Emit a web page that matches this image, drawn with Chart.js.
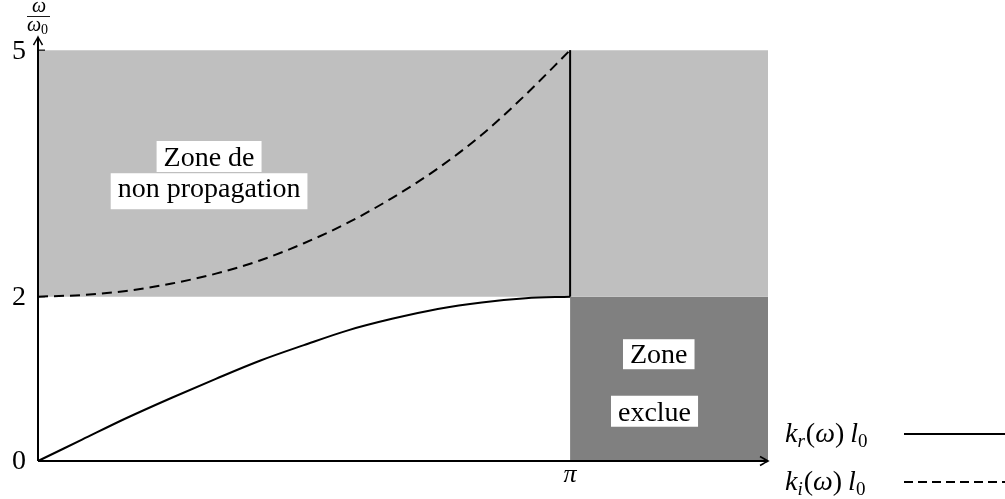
<!DOCTYPE html>
<html>
<head>
<meta charset="utf-8">
<script src="https://cdn.jsdelivr.net/npm/chart.js@4.4.1/dist/chart.umd.min.js"></script>
<style>
  html, body { margin: 0; padding: 0; background: #fff; }
  #chart { display: block; }
</style>
</head>
<body>
<canvas id="chart" width="1005" height="499"></canvas>
<script>
// values (k l0 on x, omega/omega0 on y)
const kValues   = [0, 0.26, 0.52, 0.79, 1.05, 1.31, 1.57, 1.83, 2.09, 2.36, 2.62, 2.88, Math.PI];
const omegaReal = [0, 0.26, 0.52, 0.77, 1.00, 1.22, 1.41, 1.59, 1.73, 1.85, 1.93, 1.98, 2.00];
const omegaImag = [2, 2.02, 2.07, 2.16, 2.28, 2.44, 2.65, 2.90, 3.20, 3.56, 3.97, 4.46, 5.00];
const yTickValues = [0, 2, 5];
const yTickLabels = ['0', '2', '5'];
const xTickValues = [Math.PI];
const xTickLabels = ['π'];
const cutoff = 2;     // omega/omega0 above which no propagation
const topValue = 5;
const xEnd = 4.31;
const yEnd = 5.16;

const FONT = '"Liberation Serif", "DejaVu Serif", serif';
const LIGHT = '#bfbfbf';
const DARK = '#808080';

const pts = (xs, ys) => xs.map((x, i) => ({ x: x, y: ys[i] }));

// white boxed labels, anchored in data coords (baseline centre)
const boxLabels = [
  { text: 'Zone de', x: 1.01, y: 3.59 },
  { text: 'non propagation', x: 1.01, y: 3.21 },
  { text: 'Zone', x: 3.665, y: 1.19 },
  { text: 'exclue', x: 3.64, y: 0.49 },
];

function drawRuns(ctx, x, y, runs) {
  let cx = x;
  runs.forEach(r => {
    ctx.font = r.font;
    ctx.fillText(r.t, cx, y + (r.dy || 0));
    cx += ctx.measureText(r.t).width + (r.gap || 0);
  });
}

function arrow(ctx, x, y, dir) {
  // small latex-like arrow head, dir = 'up' | 'right'
  ctx.save();
  ctx.translate(x, y);
  if (dir === 'up') ctx.rotate(-Math.PI / 2);
  ctx.beginPath();
  ctx.moveTo(-8, -4.5);
  ctx.quadraticCurveTo(-2, -1, 0, 0);
  ctx.quadraticCurveTo(-2, 1, -8, 4.5);
  ctx.lineWidth = 1.5;
  ctx.stroke();
  ctx.restore();
}

const decor = {
  id: 'decor',
  afterDatasetsDraw(chart) {
    const { ctx, chartArea: a, scales: { x, y } } = chart;
    ctx.save();
    ctx.strokeStyle = '#000';
    ctx.fillStyle = '#000';

    // boxed labels
    ctx.font = '28px ' + FONT;
    ctx.textAlign = 'left';
    ctx.textBaseline = 'alphabetic';
    boxLabels.forEach(l => {
      const m = ctx.measureText(l.text);
      const px = x.getPixelForValue(l.x), py = y.getPixelForValue(l.y);
      const w = m.width + 14;
      const top = py - m.actualBoundingBoxAscent - 6;
      const bot = py + m.actualBoundingBoxDescent + 6;
      ctx.fillStyle = '#fff';
      ctx.fillRect(px - w / 2, top, w, bot - top);
      ctx.fillStyle = '#000';
      ctx.fillText(l.text, px - m.width / 2, py);
    });

    // axes
    const x0 = x.getPixelForValue(0), y0 = y.getPixelForValue(0);
    ctx.lineWidth = 2;
    ctx.beginPath();
    ctx.moveTo(x0, y0); ctx.lineTo(a.right - 1, y0);
    ctx.moveTo(x0, y0); ctx.lineTo(x0, a.top + 1);
    ctx.stroke();
    arrow(ctx, a.right, y0, 'right');
    arrow(ctx, x0, a.top, 'up');

    // y ticks + labels
    ctx.lineWidth = 1.2;
    ctx.font = '28px ' + FONT;
    ctx.textAlign = 'center';
    ctx.textBaseline = 'middle';
    yTickValues.forEach((v, i) => {
      const py = y.getPixelForValue(v);
      ctx.beginPath();
      ctx.moveTo(x0, py); ctx.lineTo(x0 + 7, py);
      ctx.stroke();
      ctx.fillText(yTickLabels[i], x0 - 19, py + 1);
    });
    // x tick labels
    ctx.font = 'italic 26px ' + FONT;
    ctx.textBaseline = 'top';
    xTickValues.forEach((v, i) => {
      ctx.fillText(xTickLabels[i], x.getPixelForValue(v), y0 + 1);
    });

    // y axis title omega / omega0
    ctx.textAlign = 'center';
    ctx.textBaseline = 'alphabetic';
    ctx.font = 'italic 20px ' + FONT;
    ctx.fillText('ω', x0 + 1, 12);
    ctx.beginPath();
    ctx.lineWidth = 0.9;
    ctx.moveTo(x0 - 11, 16.5); ctx.lineTo(x0 + 12, 16.5);
    ctx.stroke();
    ctx.textAlign = 'left';
    drawRuns(ctx, x0 - 11, 31, [
      { t: 'ω', font: 'italic 20px ' + FONT },
      { t: '0', font: '14px ' + FONT, dy: 3 },
    ]);

    // legend
    const legendRows = [
      { sub: 'r', y: 434, dash: [] },
      { sub: 'i', y: 482, dash: [9, 5] },
    ];
    legendRows.forEach(r => {
      drawRuns(ctx, 785, r.y + 8, [
        { t: 'k', font: 'italic 28px ' + FONT },
        { t: r.sub, font: 'italic 19px ' + FONT, dy: 5, gap: 1 },
        { t: '(', font: '28px ' + FONT },
        { t: 'ω', font: 'italic 28px ' + FONT },
        { t: ')', font: '28px ' + FONT, gap: 6 },
        { t: 'l', font: 'italic 28px ' + FONT },
        { t: '0', font: '19px ' + FONT, dy: 5 },
      ]);
      ctx.beginPath();
      ctx.lineWidth = 2;
      ctx.setLineDash(r.dash);
      ctx.moveTo(904, r.y); ctx.lineTo(1005, r.y);
      ctx.stroke();
      ctx.setLineDash([]);
    });
    ctx.restore();
  }
};

new Chart(document.getElementById('chart'), {
  type: 'scatter',
  data: {
    datasets: [
      {
        label: 'k_r l0',
        data: pts(kValues, omegaReal),
        showLine: true, borderColor: '#000', borderWidth: 2,
        pointRadius: 0, cubicInterpolationMode: 'monotone', fill: false, clip: false,
      },
      {
        label: 'k_r l0 (cut)',
        data: [{ x: Math.PI, y: cutoff }, { x: Math.PI, y: topValue }],
        showLine: true, borderColor: '#000', borderWidth: 2,
        pointRadius: 0, fill: false, clip: false,
      },
      {
        label: 'k_i l0',
        data: pts(kValues, omegaImag),
        showLine: true, borderColor: '#000', borderWidth: 2, borderDash: [10, 6],
        pointRadius: 0, cubicInterpolationMode: 'monotone', fill: false, clip: false,
      },
      {
        label: 'non propagation',
        data: [{ x: 0, y: topValue }, { x: xEnd, y: topValue }],
        showLine: true, borderWidth: 0, borderColor: LIGHT, backgroundColor: LIGHT,
        pointRadius: 0, fill: { value: cutoff },
      },
      {
        label: 'exclue',
        data: [{ x: Math.PI, y: cutoff }, { x: xEnd, y: cutoff }],
        showLine: true, borderWidth: 0, borderColor: DARK, backgroundColor: DARK,
        pointRadius: 0, fill: 'origin',
      },
    ]
  },
  options: {
    responsive: false,
    animation: false,
    layout: { padding: { left: 38, right: 1005 - 768, top: 37, bottom: 499 - 461 } },
    plugins: { legend: { display: false }, tooltip: { enabled: false } },
    scales: {
      x: { type: 'linear', min: 0, max: xEnd, display: false },
      y: { type: 'linear', min: 0, max: yEnd, display: false },
    }
  },
  plugins: [decor]
});
</script>
</body>
</html>
